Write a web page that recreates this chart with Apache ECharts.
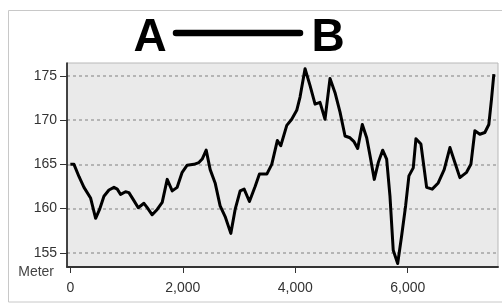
<!DOCTYPE html>
<html>
<head>
<meta charset="utf-8">
<script src="https://cdn.jsdelivr.net/npm/echarts@6/dist/echarts.min.js"></script>
<style>html,body{margin:0;padding:0;background:#fff}#c{width:502px;height:304px}</style>
</head>
<body>
<div id="c"></div>
<script>
const distances = [0,65,155,243,360,450,520,598,687,776,835,894,982,1042,1131,1208,1309,1368,1456,1545,1634,1723,1812,1900,1989,2078,2197,2286,2345,2416,2487,2575,2664,2753,2854,2931,3020,3091,3185,3286,3363,3494,3582,3682,3742,3849,3937,4026,4085,4174,4263,4352,4440,4529,4618,4707,4796,4885,4973,5040,5110,5192,5270,5329,5405,5476,5554,5625,5684,5742,5821,5891,5962,6021,6098,6146,6234,6336,6435,6542,6648,6750,6838,6927,7046,7123,7194,7282,7371,7442,7490,7531];
const elevations = [165.0,165.0,163.6,162.4,161.2,158.9,159.9,161.4,162.1,162.4,162.2,161.6,161.9,161.8,160.9,160.1,160.6,160.1,159.3,159.9,160.7,163.3,162.0,162.4,164.1,164.9,165.0,165.2,165.6,166.6,164.4,162.9,160.3,159.1,157.2,159.9,162.0,162.2,160.8,162.5,163.9,163.9,165.0,167.7,167.1,169.4,170.1,171.1,172.6,175.8,173.9,171.8,172.0,170.1,174.7,173.1,170.9,168.2,168.0,167.6,166.8,169.5,168.0,166.0,163.3,165.2,166.6,165.6,161.4,155.3,153.8,156.9,160.3,163.7,164.6,167.9,167.3,162.4,162.2,162.9,164.4,166.9,165.2,163.5,164.1,165.0,168.8,168.4,168.6,169.5,172.4,175.2];
const xTicks = [0,2000,4000,6000];
const yTicks = [155,160,165,170,175];
const yName = 'Meter';
const startLabel = 'A';
const endLabel = 'B';

const chart = echarts.init(document.getElementById('c'), null, {renderer:'canvas'});
const font = 'Liberation Sans, Arial, sans-serif';
chart.setOption({
  animation: false,
  backgroundColor: '#fff',
  graphic: [
    {type:'rect', shape:{x:8.5,y:10.5,width:520,height:291.5}, style:{fill:'none', stroke:'#c8c8c8', lineWidth:1}, z:-10, silent:true},
    {type:'text', style:{text:startLabel, x:150, y:38, align:'center', verticalAlign:'middle', font:'bold 46px Liberation Sans, Arial, sans-serif', fill:'#000'}},
    {type:'line', shape:{x1:176,y1:33,x2:300,y2:33}, style:{stroke:'#000', lineWidth:6.5, lineCap:'round'}},
    {type:'text', style:{text:endLabel, x:328, y:38, align:'center', verticalAlign:'middle', font:'bold 46px Liberation Sans, Arial, sans-serif', fill:'#000'}},
    {type:'text', style:{text:yName, x:54, y:272, align:'right', verticalAlign:'middle', font:'14px Liberation Sans, Arial, sans-serif', fill:'#444'}}
  ],
  grid: {left:67, right:4, top:63, bottom:37, show:true, backgroundColor:'#eaeaea', borderColor:'#b8b8b8', borderWidth:1},
  xAxis: {
    type:'value', min:-59, max:7605,
    axisLine:{show:true, onZero:false, lineStyle:{color:'#333', width:2}},
    axisTick:{show:true, length:6, customValues:xTicks, lineStyle:{color:'#333'}},
    axisLabel:{customValues:xTicks, margin:14, color:'#333', fontFamily:font, fontSize:14,
      formatter:v=>v.toLocaleString('en-US')},
    splitLine:{show:false}
  },
  yAxis: {
    type:'value', min:153.4, max:176.45,
    axisLine:{show:true, onZero:false, lineStyle:{color:'#111', width:1.5}},
    axisTick:{show:true, length:7, customValues:yTicks, lineStyle:{color:'#333'}},
    axisLabel:{customValues:yTicks, margin:10, color:'#333', fontFamily:font, fontSize:14},
    splitLine:{show:true, lineStyle:{color:'#a4a4a4', type:[3,3], width:1.5}}
  },
  series: [{
    type:'line', data: distances.map((d,i)=>[d, elevations[i]]),
    showSymbol:false, symbol:'none', smooth:false,
    lineStyle:{color:'#000', width:3, join:'round'}
  }]
});
</script>
</body>
</html>
